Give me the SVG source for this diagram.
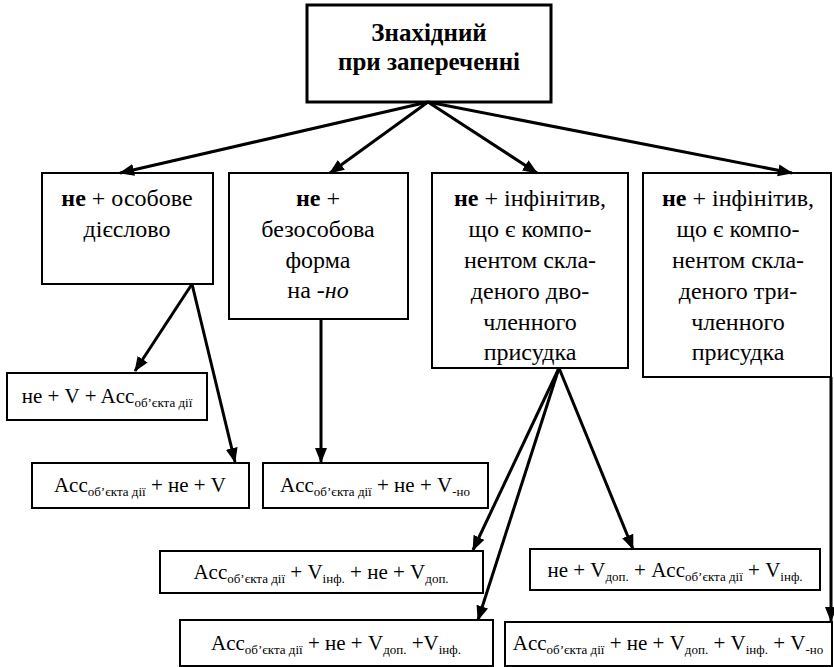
<svg xmlns="http://www.w3.org/2000/svg" width="834" height="667" viewBox="0 0 834 667" font-family="'Liberation Serif', 'Times New Roman', serif">
  <defs>
    <marker id="arrow" markerUnits="userSpaceOnUse" markerWidth="16" markerHeight="14" refX="14" refY="6" orient="auto">
      <path d="M0,0 L15,6 L0,12 z" fill="#000"/>
    </marker>
  </defs>
  <style>
    .box { fill: #fff; stroke: #000; stroke-width: 2; }
    .root { fill: #fff; stroke: #000; stroke-width: 3; }
    text { fill: #000; text-anchor: middle; }
    .t { font-size: 24px; }
    .h { font-size: 25px; font-weight: bold; }
    .f { font-size: 21px; }
    .b { font-weight: bold; }
    .s { font-size: 13px; }
    .edge { stroke: #000; stroke-width: 3; fill: none; marker-end: url(#arrow); }
  </style>
  <rect width="834" height="667" fill="#fff"/>

  <g id="root">
    <rect class="root" x="307" y="5" width="244" height="97"/>
    <text class="h" x="429" y="41">Знахідний</text>
    <text class="h" x="429" y="70">при запереченні</text>
  </g>

  <g id="personal">
    <rect class="box" x="42" y="173" width="171" height="111"/>
    <text class="t" x="127" y="206"><tspan class="b">не</tspan> + особове</text>
    <text class="t" x="127" y="237">дієслово</text>
  </g>

  <g id="impersonal">
    <rect class="box" x="229" y="173" width="179" height="146"/>
    <text class="t" x="318" y="206"><tspan class="b">не</tspan> +</text>
    <text class="t" x="318" y="237">безособова</text>
    <text class="t" x="318" y="268">форма</text>
    <text class="t" x="318" y="298">на <tspan font-style="italic">-но</tspan></text>
  </g>

  <g id="two-part">
    <rect class="box" x="432" y="173" width="196" height="195"/>
    <text class="t" x="530" y="206"><tspan class="b">не</tspan> + інфінітив,</text>
    <text class="t" x="530" y="237">що є компо-</text>
    <text class="t" x="530" y="268">нентом скла-</text>
    <text class="t" x="530" y="299">деного дво-</text>
    <text class="t" x="530" y="330">членного</text>
    <text class="t" x="530" y="360">присудка</text>
  </g>

  <g id="three-part">
    <rect class="box" x="643" y="173" width="188" height="204"/>
    <text class="t" x="738" y="206"><tspan class="b">не</tspan> + інфінітив,</text>
    <text class="t" x="738" y="237">що є компо-</text>
    <text class="t" x="738" y="268">нентом скла-</text>
    <text class="t" x="738" y="299">деного три-</text>
    <text class="t" x="738" y="330">членного</text>
    <text class="t" x="738" y="360">присудка</text>
  </g>

  <g id="p1">
    <rect class="box" x="7" y="373" width="200" height="47"/>
    <text class="f" x="107" y="403">не + V + Acc<tspan class="s" dy="4">об’єкта дії</tspan></text>
  </g>

  <g id="p2">
    <rect class="box" x="32" y="463" width="217" height="45"/>
    <text class="f" x="140" y="492">Acc<tspan class="s" dy="4">об’єкта дії</tspan><tspan dy="-4"> + не + V</tspan></text>
  </g>

  <g id="i1">
    <rect class="box" x="263" y="463" width="225" height="45"/>
    <text class="f" x="375" y="492">Acc<tspan class="s" dy="4">об’єкта дії</tspan><tspan dy="-4"> + не + V</tspan><tspan class="s" dy="4">-но</tspan></text>
  </g>

  <g id="d1">
    <rect class="box" x="160" y="551" width="323" height="42"/>
    <text class="f" x="321" y="579">Acc<tspan class="s" dy="4">об’єкта дії</tspan><tspan dy="-4"> + V</tspan><tspan class="s" dy="4">інф.</tspan><tspan dy="-4"> + не + V</tspan><tspan class="s" dy="4">доп.</tspan></text>
  </g>

  <g id="d2">
    <rect class="box" x="180" y="620" width="313" height="46"/>
    <text class="f" x="336" y="650">Acc<tspan class="s" dy="4">об’єкта дії</tspan><tspan dy="-4"> + не + V</tspan><tspan class="s" dy="4">доп.</tspan><tspan dy="-4"> +V</tspan><tspan class="s" dy="4">інф.</tspan></text>
  </g>

  <g id="d3">
    <rect class="box" x="530" y="549" width="290" height="41"/>
    <text class="f" x="675" y="577">не + V<tspan class="s" dy="4">доп.</tspan><tspan dy="-4"> + Acc</tspan><tspan class="s" dy="4">об’єкта дії</tspan><tspan dy="-4"> + V</tspan><tspan class="s" dy="4">інф.</tspan></text>
  </g>

  <g id="t1">
    <rect class="box" x="505" y="622" width="327" height="44"/>
    <text class="f" x="668" y="650">Acc<tspan class="s" dy="4">об’єкта дії</tspan><tspan dy="-4"> + не + V</tspan><tspan class="s" dy="4">доп.</tspan><tspan dy="-4"> + V</tspan><tspan class="s" dy="4">інф.</tspan><tspan dy="-4"> + V</tspan><tspan class="s" dy="4">-но</tspan></text>
  </g>

  <g id="connectors">
    <line class="edge" x1="428" y1="102" x2="120" y2="173"/>
    <line class="edge" x1="428" y1="102" x2="330" y2="173"/>
    <line class="edge" x1="428" y1="102" x2="537" y2="173"/>
    <line class="edge" x1="428" y1="102" x2="792" y2="173"/>
    <line class="edge" x1="192" y1="284" x2="135" y2="371"/>
    <line class="edge" x1="192" y1="284" x2="235" y2="462"/>
    <line class="edge" x1="321" y1="319" x2="321" y2="462"/>
    <line class="edge" x1="559" y1="368" x2="473" y2="550"/>
    <line class="edge" x1="559" y1="368" x2="478" y2="620"/>
    <line class="edge" x1="559" y1="368" x2="633" y2="549"/>
    <line class="edge" x1="831" y1="377" x2="831" y2="621"/>
  </g>
</svg>
